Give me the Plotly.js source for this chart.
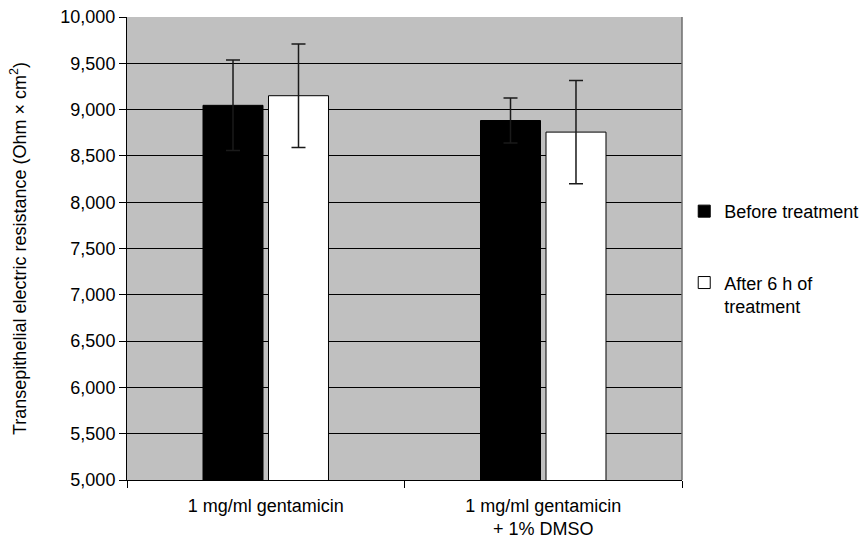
<!DOCTYPE html>
<html>
<head>
<meta charset="utf-8">
<script src="https://cdn.plot.ly/plotly-3.0.1.min.js"></script>
<style>html,body{margin:0;padding:0;background:#fff;}#chart{width:864px;height:540px;}</style>
</head>
<body>
<div id="chart"></div>
<script>
const categories = ["1 mg/ml gentamicin", "1 mg/ml gentamicin<br>+ 1% DMSO"];
const seriesNames = ["Before treatment", "After 6 h of<br>treatment"];
const beforeValues = [9046, 8882];
const beforeErrors = [489, 242];
const afterValues = [9150, 8757];
const afterErrors = [558, 558];
const yTickValues = [5000, 5500, 6000, 6500, 7000, 7500, 8000, 8500, 9000, 9500, 10000];

const FONT = "Liberation Sans, Arial, Helvetica, sans-serif";

const traces = [
  {
    type: "bar", name: seriesNames[0], x: categories, y: beforeValues,
    legendgroup: "a",
    marker: {color: "#000000", line: {color: "#000000", width: 1}},
    error_y: {type: "data", array: beforeErrors, visible: true, color: "#1a1a1a", thickness: 1.5, width: 7}
  },
  {
    type: "bar", name: seriesNames[1], x: categories, y: afterValues,
    legendgroup: "b",
    marker: {color: "#ffffff", line: {color: "#000000", width: 1}},
    error_y: {type: "data", array: afterErrors, visible: true, color: "#1a1a1a", thickness: 1.5, width: 7}
  }
];

const layout = {
  width: 864, height: 540,
  margin: {l: 127, r: 182, t: 17, b: 60, pad: 0, autoexpand: false},
  paper_bgcolor: "#ffffff",
  plot_bgcolor: "#c0c0c0",
  font: {family: FONT, size: 18, color: "#000000"},
  barmode: "group",
  bargap: 0.528,
  bargroupgap: 0.084,
  showlegend: true,
  legend: {
    x: 1.004, xanchor: "left", y: 0.62, yanchor: "top",
    traceorder: "grouped", tracegroupgap: 45, valign: "top",
    font: {family: FONT, size: 18, color: "#000000"},
    bgcolor: "rgba(0,0,0,0)", borderwidth: 0
  },
  xaxis: {
    type: "category",
    showline: true, linecolor: "#000000", linewidth: 1,
    ticks: "outside", tickson: "boundaries", ticklen: 7, tickcolor: "#000000", tickwidth: 1,
    showgrid: false, zeroline: false,
    ticklabelstandoff: 9,
    tickfont: {family: FONT, size: 18, color: "#000000"}
  },
  yaxis: {
    range: [5000, 10000],
    tickvals: yTickValues,
    tickformat: ",d",
    showline: true, linecolor: "#000000", linewidth: 1,
    ticks: "outside", ticklen: 7, tickcolor: "#000000", tickwidth: 1,
    showgrid: true, gridcolor: "#000000", gridwidth: 1,
    zeroline: false,
    tickfont: {family: FONT, size: 18, color: "#000000"},
    title: {text: "Transepithelial electric resistance (Ohm × cm<sup>2</sup>)", font: {family: FONT, size: 18, color: "#000000"}, standoff: 29}
  },
  shapes: [
    {type: "line", xref: "paper", yref: "paper", x0: 1, x1: 1, y0: 0, y1: 1, line: {color: "#6e6e6e", width: 1.5}}
  ]
};

Plotly.newPlot("chart", traces, layout, {displayModeBar: false, staticPlot: true});
</script>
</body>
</html>
